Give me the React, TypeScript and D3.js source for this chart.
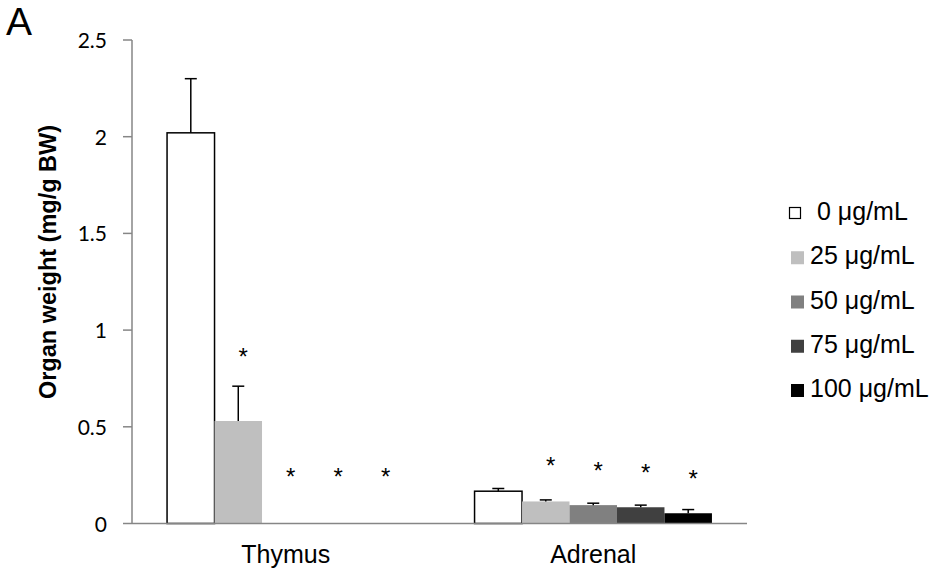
import React, { useEffect, useRef } from 'react'
import * as d3 from 'd3'

// chart values
const organs = ['Thymus', 'Adrenal']
const doses = ['0 μg/mL', '25 μg/mL', '50 μg/mL', '75 μg/mL', '100 μg/mL']
const doseColors = ['#ffffff', '#bfbfbf', '#808080', '#404040', '#000000']
const thymusMean = [2.02, 0.53, 0, 0, 0]
const thymusErr = [0.28, 0.18, 0, 0, 0]
const adrenalMean = [0.167, 0.114, 0.095, 0.084, 0.053]
const adrenalErr = [0.014, 0.008, 0.01, 0.011, 0.019]
// level (mg/g BW) where the significance star sits, null = none
const thymusStar = [null, 0.89, 0.27, 0.27, 0.27]
const adrenalStar = [null, 0.33, 0.3, 0.29, 0.26]
const yTicks = [0, 0.5, 1, 1.5, 2, 2.5]

const W = 930
const H = 572

const App: React.FC = () => {
  const svgRef = useRef<SVGSVGElement>(null)

  useEffect(() => {
    if (!svgRef.current) return
    const svg = d3.select(svgRef.current)
    svg.selectAll('*').remove()

    const left = 132
    const right = 747
    const top = 40
    const bottom = 523.5
    const font = '"Liberation Sans", Arial, sans-serif'
    const tickFont = 'Lato, "Liberation Sans", sans-serif'

    const y = d3.scaleLinear().domain([0, 2.5]).range([bottom, top])
    const x0 = d3.scaleBand().domain(organs).range([left, right])
    const inset = x0.bandwidth() * 0.114
    const x1 = d3.scaleBand().domain(doses).range([inset, x0.bandwidth() - inset])

    const rows = organs.map((o, i) => ({
      organ: o,
      mean: i === 0 ? thymusMean : adrenalMean,
      err: i === 0 ? thymusErr : adrenalErr,
      star: i === 0 ? thymusStar : adrenalStar
    }))

    const g = svg.append('g')

    const label = (tx: number, ty: number, txt: string, size: number, anchor: string, family = font) =>
      g.append('text')
        .attr('x', tx)
        .attr('y', ty)
        .attr('text-anchor', anchor)
        .style('font-family', family)
        .style('font-size', `${size}px`)
        .style('fill', '#000')
        .text(txt)

    // y axis
    g.append('line')
      .attr('x1', left).attr('x2', left)
      .attr('y1', top).attr('y2', bottom)
      .attr('stroke', '#868686').attr('stroke-width', 1.5)
    yTicks.forEach(t => {
      g.append('line')
        .attr('x1', left - 9).attr('x2', left)
        .attr('y1', y(t)).attr('y2', y(t))
        .attr('stroke', '#868686').attr('stroke-width', 1.5)
      label(107, y(t) + 8, String(t), 21, 'end', tickFont)
    })

    // bars, error bars, stars
    rows.forEach(r => {
      const gx = x0(r.organ) ?? 0
      doses.forEach((d, j) => {
        const bx = gx + (x1(d) ?? 0)
        const bw = x1.bandwidth()
        const v = r.mean[j]
        if (v > 0) {
          g.append('rect')
            .attr('x', bx).attr('width', bw)
            .attr('y', y(v)).attr('height', y(0) - y(v))
            .attr('fill', doseColors[j])
            .attr('stroke', j === 0 ? '#000' : 'none')
            .attr('stroke-width', 1.5)
        }
        const e = r.err[j]
        if (e > 0) {
          const cx = bx + bw / 2
          g.append('line')
            .attr('x1', cx).attr('x2', cx)
            .attr('y1', y(v)).attr('y2', y(v + e))
            .attr('stroke', '#000').attr('stroke-width', 1.5)
          g.append('line')
            .attr('x1', cx - 6).attr('x2', cx + 6)
            .attr('y1', y(v + e)).attr('y2', y(v + e))
            .attr('stroke', '#000').attr('stroke-width', 1.5)
        }
        const s = r.star[j]
        if (s !== null) {
          label(bx + bw / 2 + 5, y(s) + 14, '*', 24, 'middle')
        }
      })
    })

    // x axis
    g.append('line')
      .attr('x1', left).attr('x2', right)
      .attr('y1', bottom).attr('y2', bottom)
      .attr('stroke', '#868686').attr('stroke-width', 1.5)
    organs.forEach(o => {
      label((x0(o) ?? 0) + x0.bandwidth() / 2, 563, o, 25, 'middle')
    })

    // y title
    g.append('text')
      .attr('transform', `translate(56,262) rotate(-90)`)
      .attr('text-anchor', 'middle')
      .style('font-family', font)
      .style('font-size', '23.5px')
      .style('font-weight', 'bold')
      .text('Organ weight (mg/g BW)')

    // panel letter
    label(6, 35, 'A', 39, 'start')

    // legend
    const legY = d3.scalePoint().domain(doses).range([220, 397])
    doses.forEach((d, j) => {
      const base = legY(d) ?? 0
      const first = j === 0
      g.append('rect')
        .attr('x', first ? 789.5 : 791).attr('y', base - (first ? 12.5 : 13))
        .attr('width', first ? 11 : 13).attr('height', first ? 11 : 13)
        .attr('fill', doseColors[j])
        .attr('stroke', first ? '#000' : 'none')
        .attr('stroke-width', 1.2)
      label(first ? 817 : 810, base, d, 25, 'start')
    })
  }, [])

  return (
    <svg
      ref={svgRef}
      width={W}
      height={H}
      style={{ position: 'absolute', left: 0, top: 0, background: '#fff' }}
    />
  )
}

export default App
